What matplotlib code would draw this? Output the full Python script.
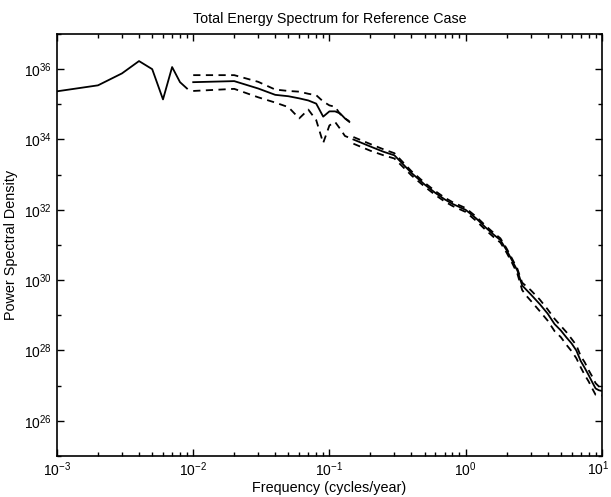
import matplotlib
matplotlib.use('Agg')
import matplotlib.pyplot as plt
import matplotlib.ticker as mticker
import numpy as np

plt.rcParams['font.family'] = ['Liberation Sans', 'DejaVu Sans']
plt.rcParams['mathtext.fontset'] = 'custom'
plt.rcParams['mathtext.rm'] = 'Liberation Sans'
plt.rcParams['mathtext.it'] = 'Liberation Sans:italic'
plt.rcParams['mathtext.bf'] = 'Liberation Sans:bold'

# low-frequency part (no confidence bounds), log10 of PSD
freq_low = [0.001, 0.002, 0.003, 0.004, 0.005, 0.006, 0.007, 0.008, 0.009]
psd_low = [35.37, 35.54, 35.88, 36.23, 36.0, 35.14, 36.06, 35.63, 35.45]

# middle part
freq_mid = [0.01, 0.02, 0.03, 0.04, 0.05, 0.06, 0.07, 0.08, 0.09, 0.10, 0.11, 0.12, 0.13, 0.14]
psd_mid = [35.63, 35.66, 35.45, 35.27, 35.23, 35.17, 35.11, 35.02, 34.65, 34.8, 34.8, 34.74, 34.6, 34.5]
upper_mid = [35.83, 35.83, 35.64, 35.42, 35.38, 35.36, 35.3, 35.26, 35.08, 34.97, 34.93, 34.72, 34.6, 34.52]
lower_mid = [35.38, 35.44, 35.2, 35.05, 34.92, 34.6, 34.85, 34.55, 33.9, 34.4, 34.5, 34.3, 34.1, 34.05]

# high-frequency part
freq_high = [0.15, 0.2, 0.25, 0.3, 0.4, 0.5, 0.6, 0.7, 0.8, 0.9, 1.0, 1.2, 1.4, 1.6, 1.8, 2.0,
             2.2, 2.4, 2.6, 2.8, 3.0, 3.5, 4, 4.5, 5, 5.5, 6, 6.5, 7, 7.5, 8, 8.5, 9, 9.5, 10]
psd_high = [34.0, 33.8, 33.65, 33.55, 33.05, 32.72, 32.48, 32.3, 32.17, 32.08, 32.0, 31.75, 31.5,
            31.3, 31.14, 30.85, 30.55, 30.27, 29.85, 29.72, 29.6, 29.32, 29.05, 28.75, 28.57,
            28.37, 28.2, 28.0, 27.7, 27.5, 27.3, 27.1, 26.92, 26.87, 26.85]
upper_high = [34.07, 33.87, 33.72, 33.61, 33.10, 32.77, 32.53, 32.35, 32.22, 32.13, 32.05, 31.80,
              31.55, 31.35, 31.19, 30.90, 30.60, 30.32, 29.93, 29.82, 29.72, 29.45, 29.17, 28.90,
              28.70, 28.52, 28.33, 28.15, 27.84, 27.66, 27.44, 27.26, 27.07, 26.98, 26.96]
lower_high = [33.88, 33.68, 33.55, 33.46, 32.98, 32.66, 32.42, 32.24, 32.11, 32.02, 31.94, 31.68,
              31.43, 31.23, 31.07, 30.78, 30.48, 30.18, 29.72, 29.55, 29.42, 29.12, 28.85, 28.55,
              28.38, 28.16, 27.98, 27.78, 27.52, 27.30, 27.12, 26.92, 26.74, 26.72, 26.72]

x_max = 10


def to_lin(vals):
    return 10.0 ** np.array(vals)


def pow_label(v, pos):
    return r'$10^{%d}$' % round(np.log10(v))


def x_label(v, pos):
    # the last one is drawn separately so it stays inside the canvas
    if np.isclose(v, x_max):
        return ''
    return pow_label(v, pos)


fig = plt.figure(figsize=(6.11, 4.97), dpi=100)
ax = fig.add_axes([0.0933, 0.0825, 0.8917, 0.8491])

lw = 1.3
dash = (4, 3)
ax.loglog(freq_low, to_lin(psd_low), color='black', lw=lw)
ax.loglog(freq_mid, to_lin(psd_mid), color='black', lw=lw)
ax.loglog(freq_mid, to_lin(upper_mid), color='black', lw=lw, ls='--', dashes=dash)
ax.loglog(freq_mid, to_lin(lower_mid), color='black', lw=lw, ls='--', dashes=dash)
ax.loglog(freq_high, to_lin(psd_high), color='black', lw=lw)
ax.loglog(freq_high, to_lin(upper_high), color='black', lw=lw, ls='--', dashes=dash)
ax.loglog(freq_high, to_lin(lower_high), color='black', lw=lw, ls='--', dashes=dash)

ax.set_xlim(1e-3, x_max)
ax.set_ylim(1e25, 1e37)

ax.xaxis.set_major_locator(mticker.LogLocator(base=10, numticks=10))
ax.xaxis.set_minor_locator(mticker.LogLocator(base=10, subs=np.arange(2, 10), numticks=20))
ax.xaxis.set_minor_formatter(mticker.NullFormatter())
ax.yaxis.set_major_locator(mticker.FixedLocator([10.0 ** e for e in range(26, 37, 2)]))
ax.yaxis.set_minor_locator(mticker.FixedLocator([10.0 ** e for e in range(25, 38, 2)]))
ax.yaxis.set_minor_formatter(mticker.NullFormatter())
ax.yaxis.set_major_formatter(mticker.FuncFormatter(pow_label))
ax.xaxis.set_major_formatter(mticker.FuncFormatter(x_label))

ax.tick_params(which='both', direction='in', top=True, right=True, labelsize=10, width=1)
ax.tick_params(which='major', length=5)
ax.tick_params(which='minor', length=3)
for s in ax.spines.values():
    s.set_linewidth(1.2)

fig.text(0.998, 0.9255 - 0.8491 - 0.0, pow_label(x_max, None), fontsize=10,
         ha='right', va='top')

ax.set_title('Total Energy Spectrum for Reference Case', fontsize=10.3, pad=8)
ax.set_xlabel('Frequency (cycles/year)', fontsize=10.4, labelpad=1)
ax.set_ylabel('Power Spectral Density', fontsize=10.4)
ax.yaxis.set_label_coords(-0.072, 0.5)

fig.savefig('out.png', dpi=100)
